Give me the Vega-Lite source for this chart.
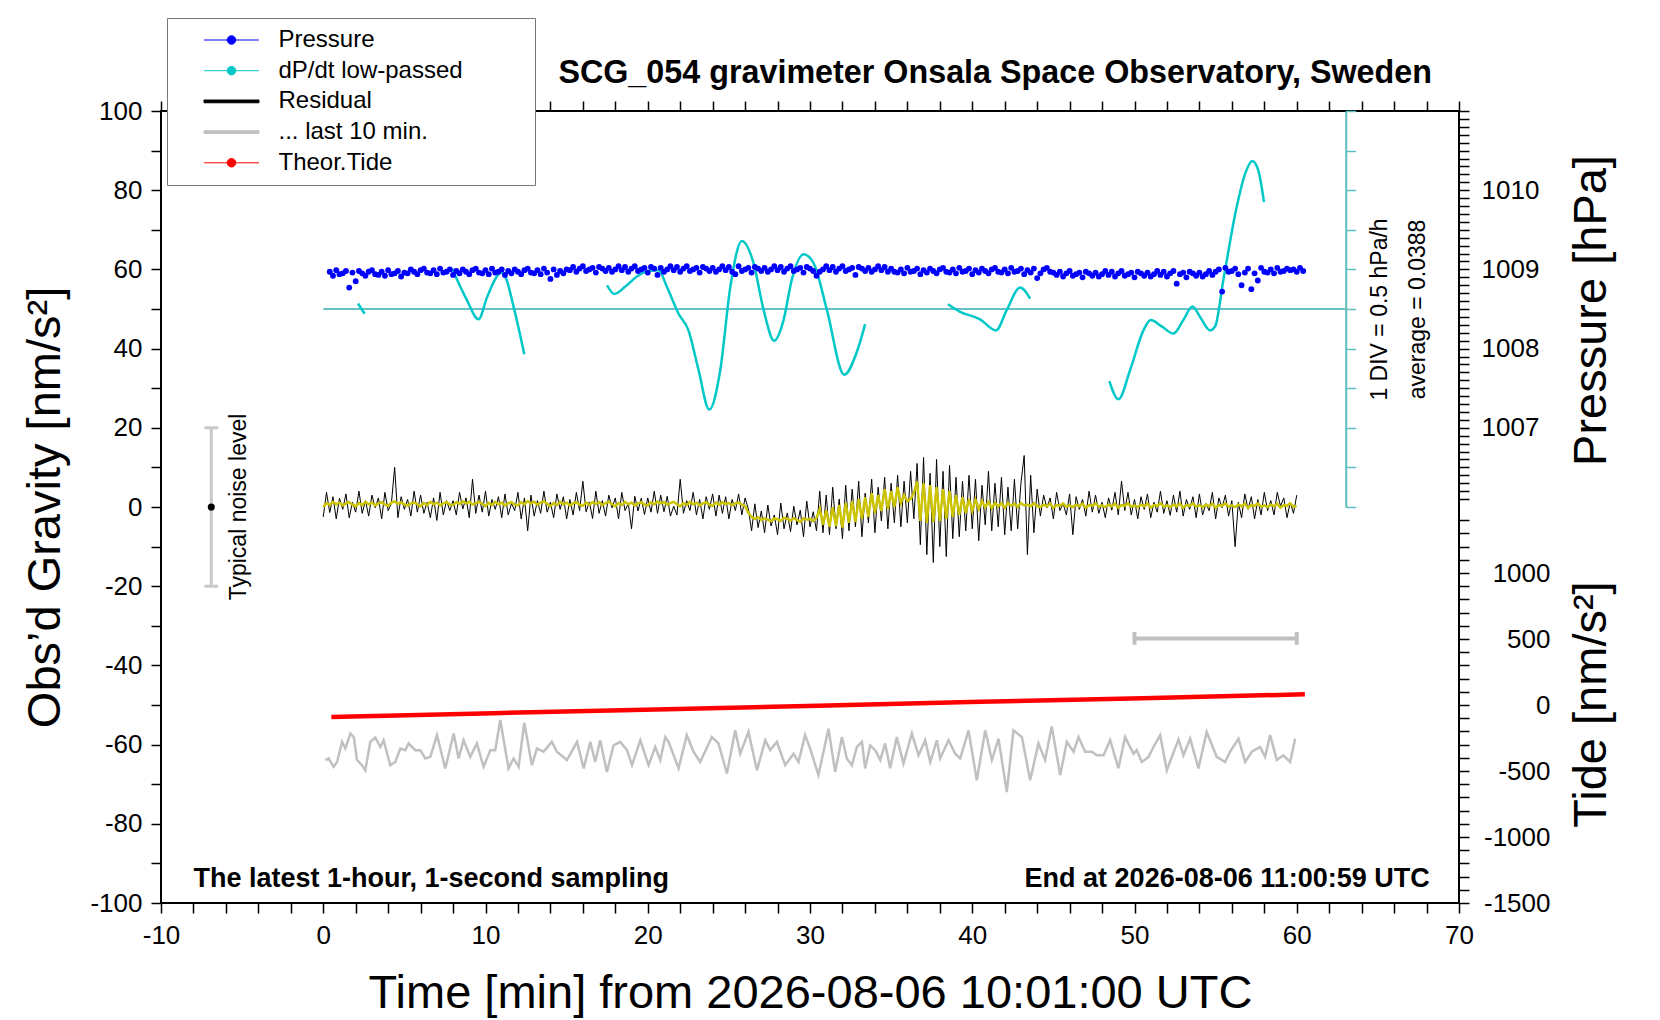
{
  "$schema": "https://vega.github.io/schema/vega-lite/v6.json",
  "width": 1298,
  "height": 792,
  "autosize": {"type": "none"},
  "padding": {"left": 161, "top": 111, "right": 201, "bottom": 117},
  "background": "white",
  "title": {"text": "SCG_054 gravimeter Onsala Space Observatory, Sweden", "frame": "group", "anchor": "end", "dx": -27, "offset": -72, "fontSize": 32.3, "fontWeight": "bold", "color": "black", "font": "Liberation Sans"},
  "config": {
    "font": "Liberation Sans",
    "view": {"stroke": "black", "strokeWidth": 2},
    "axis": {"grid": false, "domain": false, "tickColor": "black", "tickWidth": 1.5, "tickSize": 10, "tickCount": 200, "labelFontSize": 26, "labelColor": "black", "labelOverlap": false, "labelBound": false, "labelFlush": false, "titleFontSize": 47, "titleFontWeight": "normal", "titleColor": "black"}
  },
  "datasets": {
    "res": [
      {"t":0,"r":-2.5,"s":0.0},{"t":0.2,"r":3.7,"s":1.0},{"t":0.4,"r":-1.4,"s":0.5},{"t":0.6,"r":2.6,"s":1.3},{"t":0.8,"r":-3.0,"s":0.7},{"t":1.0,"r":2.2,"s":1.1},{"t":1.2,"r":-0.6,"s":0.4},{"t":1.4,"r":3.3,"s":0.9},{"t":1.6,"r":-2.7,"s":1.2},{"t":1.8,"r":1.2,"s":0.6},
      {"t":2.0,"r":-1.3,"s":0.2},{"t":2.2,"r":4.0,"s":1.0},{"t":2.4,"r":-1.6,"s":0.5},{"t":2.6,"r":1.6,"s":1.3},{"t":2.8,"r":-2.3,"s":0.7},{"t":3.0,"r":3.0,"s":1.1},{"t":3.2,"r":-0.2,"s":0.4},{"t":3.4,"r":2.3,"s":0.9},{"t":3.6,"r":-3.0,"s":1.2},{"t":3.8,"r":3.7,"s":0.6},
      {"t":4.0,"r":-0.9,"s":0.3},{"t":4.2,"r":0.9,"s":1.1},{"t":4.4,"r":10.0,"s":1.4},{"t":4.6,"r":-2.7,"s":0.8},{"t":4.8,"r":2.6,"s":1.2},{"t":5.0,"r":-0.6,"s":0.6},{"t":5.2,"r":1.9,"s":0.4},{"t":5.4,"r":-2.3,"s":0.9},{"t":5.6,"r":4.0,"s":1.1},{"t":5.8,"r":-1.3,"s":0.7},
      {"t":6.0,"r":3.0,"s":0.2},{"t":6.2,"r":-1.6,"s":1.0},{"t":6.4,"r":1.2,"s":0.5},{"t":6.6,"r":-2.7,"s":1.3},{"t":6.8,"r":2.3,"s":0.7},{"t":7.0,"r":-3.4,"s":1.1},{"t":7.2,"r":3.7,"s":0.4},{"t":7.4,"r":-2.0,"s":0.9},{"t":7.6,"r":1.6,"s":1.2},{"t":7.8,"r":-0.9,"s":0.6},
      {"t":8.0,"r":1.6,"s":0.5},{"t":8.2,"r":-2.0,"s":1.2},{"t":8.4,"r":3.7,"s":0.8},{"t":8.6,"r":-0.5,"s":1.4},{"t":8.8,"r":2.3,"s":0.9},{"t":9.0,"r":-2.7,"s":1.3},{"t":9.2,"r":7.0,"s":0.6},{"t":9.4,"r":-1.6,"s":1.0},{"t":9.6,"r":3.0,"s":1.3},{"t":9.8,"r":-1.3,"s":0.8},
      {"t":10.0,"r":4.0,"s":0.2},{"t":10.2,"r":-2.3,"s":1.0},{"t":10.4,"r":1.9,"s":0.5},{"t":10.6,"r":-0.6,"s":1.3},{"t":10.8,"r":2.6,"s":0.7},{"t":11.0,"r":-2.7,"s":1.1},{"t":11.2,"r":3.3,"s":0.4},{"t":11.4,"r":-2.0,"s":0.9},{"t":11.6,"r":0.9,"s":1.2},{"t":11.8,"r":-0.9,"s":0.6},
      {"t":12.0,"r":3.7,"s":0.4},{"t":12.2,"r":-3.0,"s":1.2},{"t":12.4,"r":2.3,"s":0.7},{"t":12.6,"r":-6.0,"s":1.5},{"t":12.8,"r":3.0,"s":0.9},{"t":13.0,"r":-2.3,"s":1.3},{"t":13.2,"r":1.6,"s":0.6},{"t":13.4,"r":-1.6,"s":1.1},{"t":13.6,"r":4.0,"s":1.4},{"t":13.8,"r":-1.3,"s":0.8},
      {"t":14.0,"r":1.2,"s":0.2},{"t":14.2,"r":-2.7,"s":1.0},{"t":14.4,"r":3.3,"s":0.5},{"t":14.6,"r":-0.6,"s":1.3},{"t":14.8,"r":2.6,"s":0.7},{"t":15.0,"r":-3.0,"s":1.1},{"t":15.2,"r":1.9,"s":0.4},{"t":15.4,"r":-2.0,"s":0.9},{"t":15.6,"r":3.7,"s":1.2},{"t":15.8,"r":-0.9,"s":0.6},
      {"t":16.0,"r":6.5,"s":0.3},{"t":16.2,"r":-1.2,"s":1.1},{"t":16.4,"r":1.3,"s":0.6},{"t":16.6,"r":-2.9,"s":1.2},{"t":16.8,"r":4.0,"s":0.8},{"t":17.0,"r":-1.6,"s":1.2},{"t":17.2,"r":1.6,"s":0.5},{"t":17.4,"r":-2.3,"s":1.0},{"t":17.6,"r":3.0,"s":1.3},{"t":17.8,"r":-0.2,"s":0.7},
      {"t":18.0,"r":2.3,"s":0.2},{"t":18.2,"r":-3.0,"s":1.0},{"t":18.4,"r":3.7,"s":0.5},{"t":18.6,"r":-0.9,"s":1.3},{"t":18.8,"r":0.9,"s":0.7},{"t":19.0,"r":-5.5,"s":1.1},{"t":19.2,"r":2.7,"s":0.4},{"t":19.4,"r":-1.0,"s":0.9},{"t":19.6,"r":2.2,"s":1.2},{"t":19.8,"r":-1.9,"s":0.6},
      {"t":20.0,"r":2.3,"s":0.4},{"t":20.2,"r":-1.3,"s":1.2},{"t":20.4,"r":4.0,"s":0.7},{"t":20.6,"r":-1.6,"s":1.4},{"t":20.8,"r":3.0,"s":0.9},{"t":21.0,"r":-1.2,"s":1.2},{"t":21.2,"r":2.7,"s":0.6},{"t":21.4,"r":-2.3,"s":1.0},{"t":21.6,"r":0.2,"s":1.3},{"t":21.8,"r":-2.0,"s":0.7},
      {"t":22.0,"r":7.0,"s":0.2},{"t":22.2,"r":-1.6,"s":1.0},{"t":22.4,"r":1.6,"s":0.5},{"t":22.6,"r":-0.9,"s":1.3},{"t":22.8,"r":3.7,"s":0.7},{"t":23.0,"r":-2.0,"s":1.1},{"t":23.2,"r":1.9,"s":0.4},{"t":23.4,"r":-3.0,"s":0.9},{"t":23.6,"r":2.6,"s":1.2},{"t":23.8,"r":-0.6,"s":0.6},
      {"t":24.0,"r":3.3,"s":0.3},{"t":24.2,"r":-2.3,"s":1.1},{"t":24.4,"r":3.0,"s":0.6},{"t":24.6,"r":-1.6,"s":1.2},{"t":24.8,"r":2.6,"s":0.8},{"t":25.0,"r":-3.0,"s":1.0},{"t":25.2,"r":1.9,"s":0.5},{"t":25.4,"r":-0.9,"s":0.9},{"t":25.6,"r":3.3,"s":1.1},{"t":25.8,"r":-2.0,"s":0.6},
      {"t":26.0,"r":2.3,"s":0.2},{"t":26.2,"r":-0.5,"s":-1.5},{"t":26.4,"r":-6.0,"s":-2.5},{"t":26.6,"r":0.8,"s":-3.0},{"t":26.8,"r":-5.2,"s":-2.6},{"t":27.0,"r":-1.0,"s":-3.3},{"t":27.2,"r":-6.5,"s":-2.8},{"t":27.4,"r":0.5,"s":-3.2},{"t":27.6,"r":-4.8,"s":-3.6},{"t":27.8,"r":-2.0,"s":-2.9},
      {"t":28.0,"r":-7.0,"s":-3.1},{"t":28.2,"r":1.0,"s":-3.5},{"t":28.4,"r":-5.5,"s":-2.7},{"t":28.6,"r":-1.5,"s":-3.0},{"t":28.8,"r":-6.2,"s":-3.4},{"t":29.0,"r":0.2,"s":-2.8},{"t":29.2,"r":-4.5,"s":-3.3},{"t":29.4,"r":-0.8,"s":-3.7},{"t":29.6,"r":-7.5,"s":-2.9},{"t":29.8,"r":1.5,"s":-3.2},
      {"t":30.0,"r":-5.0,"s":-3.0},{"t":30.2,"r":-1.2,"s":-3.5},{"t":30.4,"r":-6.0,"s":-2.8},{"t":30.6,"r":4.0,"s":-0.5},{"t":30.8,"r":-6.5,"s":-4.5},{"t":31.0,"r":3.0,"s":-0.8},{"t":31.2,"r":-7.0,"s":-5.0},{"t":31.4,"r":5.0,"s":0.0},{"t":31.6,"r":-5.5,"s":-4.8},{"t":31.8,"r":2.0,"s":0.5},
      {"t":32.0,"r":-8.0,"s":-5.2},{"t":32.2,"r":5.5,"s":1.0},{"t":32.4,"r":-6.0,"s":-4.0},{"t":32.6,"r":4.5,"s":1.5},{"t":32.8,"r":-5.0,"s":-3.8},{"t":33.0,"r":6.5,"s":2.0},{"t":33.2,"r":-7.5,"s":-3.0},{"t":33.4,"r":3.5,"s":2.5},{"t":33.6,"r":-4.0,"s":-2.5},{"t":33.8,"r":7.0,"s":3.5},
      {"t":34.0,"r":-6.5,"s":-1.5},{"t":34.2,"r":5.0,"s":3.0},{"t":34.4,"r":-3.5,"s":-1.0},{"t":34.6,"r":7.5,"s":4.5},{"t":34.8,"r":-5.5,"s":-0.5},{"t":35.0,"r":6.0,"s":4.0},{"t":35.2,"r":-4.0,"s":0.0},{"t":35.4,"r":8.0,"s":5.0},{"t":35.6,"r":-5.0,"s":1.0},{"t":35.8,"r":6.5,"s":3.0},
      {"t":36.0,"r":-4.0,"s":1.5},{"t":36.2,"r":9.0,"s":2.0},{"t":36.4,"r":-3.0,"s":3.5},{"t":36.6,"r":11.0,"s":6.5},{"t":36.8,"r":-9.5,"s":-3.5},{"t":37.0,"r":12.5,"s":6.0},{"t":37.2,"r":-12.0,"s":-4.0},{"t":37.4,"r":8.5,"s":5.5},{"t":37.6,"r":-14.0,"s":-3.8},{"t":37.8,"r":12.0,"s":5.0},
      {"t":38.0,"r":-10.0,"s":-3.5},{"t":38.2,"r":9.0,"s":4.5},{"t":38.4,"r":-12.5,"s":-3.0},{"t":38.6,"r":10.5,"s":4.0},{"t":38.8,"r":-8.0,"s":-2.5},{"t":39.0,"r":7.5,"s":3.0},{"t":39.2,"r":-7.5,"s":-2.0},{"t":39.4,"r":6.5,"s":2.5},{"t":39.6,"r":-6.0,"s":-1.5},{"t":39.8,"r":8.0,"s":2.0},
      {"t":40.0,"r":-5.5,"s":-1.0},{"t":40.2,"r":7.0,"s":1.8},{"t":40.4,"r":-8.5,"s":-0.5},{"t":40.6,"r":5.5,"s":1.5},{"t":40.8,"r":-4.5,"s":0.0},{"t":41.0,"r":9.0,"s":1.2},{"t":41.2,"r":-6.0,"s":-0.3},{"t":41.4,"r":6.0,"s":1.0},{"t":41.6,"r":-5.0,"s":0.2},{"t":41.8,"r":7.5,"s":0.9},
      {"t":42.0,"r":-7.0,"s":-0.2},{"t":42.2,"r":5.0,"s":1.0},{"t":42.4,"r":-6.0,"s":0.3},{"t":42.6,"r":7.0,"s":0.8},{"t":42.8,"r":-5.5,"s":0.0},{"t":43.0,"r":6.0,"s":1.0},{"t":43.2,"r":13.0,"s":0.4},{"t":43.4,"r":-12.0,"s":0.6},{"t":43.6,"r":8.0,"s":0.2},{"t":43.8,"r":-6.5,"s":0.9},
      {"t":44.0,"r":4.5,"s":0.3},{"t":44.2,"r":-2.3,"s":0.0},{"t":44.4,"r":3.0,"s":0.6},{"t":44.6,"r":-0.2,"s":0.2},{"t":44.8,"r":2.3,"s":0.8},{"t":45.0,"r":-3.0,"s":-0.2},{"t":45.2,"r":3.7,"s":0.5},{"t":45.4,"r":-0.9,"s":0.3},{"t":45.6,"r":0.9,"s":0.9},{"t":45.8,"r":-2.0,"s":0.1},
      {"t":46.0,"r":3.3,"s":0.4},{"t":46.2,"r":-7.0,"s":0.0},{"t":46.4,"r":2.6,"s":0.6},{"t":46.6,"r":-0.6,"s":0.2},{"t":46.8,"r":1.9,"s":0.8},{"t":47.0,"r":-2.3,"s":-0.2},{"t":47.2,"r":4.0,"s":0.5},{"t":47.4,"r":-1.3,"s":0.3},{"t":47.6,"r":3.0,"s":0.9},{"t":47.8,"r":-1.6,"s":0.1},
      {"t":48.0,"r":1.2,"s":0.4},{"t":48.2,"r":-2.7,"s":0.0},{"t":48.4,"r":2.3,"s":0.6},{"t":48.6,"r":-0.8,"s":0.2},{"t":48.8,"r":3.7,"s":0.8},{"t":49.0,"r":-2.0,"s":-0.2},{"t":49.2,"r":6.5,"s":0.5},{"t":49.4,"r":-0.9,"s":0.3},{"t":49.6,"r":3.7,"s":0.9},{"t":49.8,"r":-2.0,"s":0.1},
      {"t":50.0,"r":1.9,"s":0.4},{"t":50.2,"r":-3.0,"s":0.0},{"t":50.4,"r":2.6,"s":0.6},{"t":50.6,"r":-0.6,"s":0.2},{"t":50.8,"r":3.3,"s":0.8},{"t":51.0,"r":-2.7,"s":-0.2},{"t":51.2,"r":1.2,"s":0.5},{"t":51.4,"r":-1.3,"s":0.3},{"t":51.6,"r":4.0,"s":0.9},{"t":51.8,"r":-1.6,"s":0.1},
      {"t":52.0,"r":1.6,"s":0.4},{"t":52.2,"r":-2.1,"s":0.0},{"t":52.4,"r":3.0,"s":0.6},{"t":52.6,"r":-1.3,"s":0.2},{"t":52.8,"r":4.0,"s":0.8},{"t":53.0,"r":-2.3,"s":-0.2},{"t":53.2,"r":1.9,"s":0.5},{"t":53.4,"r":-0.6,"s":0.3},{"t":53.6,"r":2.6,"s":0.9},{"t":53.8,"r":-2.7,"s":0.1},
      {"t":54.0,"r":3.3,"s":0.4},{"t":54.2,"r":-2.0,"s":0.0},{"t":54.4,"r":0.9,"s":0.6},{"t":54.6,"r":-0.9,"s":0.2},{"t":54.8,"r":3.7,"s":0.8},{"t":55.0,"r":-3.0,"s":-0.2},{"t":55.2,"r":2.3,"s":0.5},{"t":55.4,"r":-0.2,"s":0.3},{"t":55.6,"r":3.0,"s":0.9},{"t":55.8,"r":-2.3,"s":0.1},
      {"t":56.0,"r":1.6,"s":0.4},{"t":56.2,"r":-10.0,"s":0.0},{"t":56.4,"r":1.2,"s":0.6},{"t":56.6,"r":-2.7,"s":0.2},{"t":56.8,"r":3.3,"s":0.8},{"t":57.0,"r":-0.6,"s":-0.2},{"t":57.2,"r":2.6,"s":0.5},{"t":57.4,"r":-3.0,"s":0.3},{"t":57.6,"r":1.9,"s":0.9},{"t":57.8,"r":-2.0,"s":0.1},
      {"t":58.0,"r":3.7,"s":0.4},{"t":58.2,"r":-0.9,"s":0.0},{"t":58.4,"r":1.6,"s":0.6},{"t":58.6,"r":-2.0,"s":0.2},{"t":58.8,"r":3.7,"s":0.8},{"t":59.0,"r":0.2,"s":-0.2},{"t":59.2,"r":2.3,"s":0.5},{"t":59.4,"r":-2.7,"s":0.3},{"t":59.6,"r":1.2,"s":0.9},{"t":59.8,"r":-1.6,"s":0.1},
      {"t":60.0,"r":3.0,"s":0.2}
    ],
    "pres": [
      {"t":0.4,"p":1008.97},{"t":0.6,"p":1008.92},{"t":0.8,"p":1008.99},{"t":1.0,"p":1008.94},{"t":1.2,"p":1008.95},{"t":1.4,"p":1008.98},{"t":1.6,"p":1008.77},{"t":1.8,"p":1008.96},{"t":2.0,"p":1008.85},{"t":2.2,"p":1008.98},
      {"t":2.4,"p":1008.95},{"t":2.6,"p":1008.92},{"t":2.8,"p":1008.97},{"t":3.0,"p":1008.99},{"t":3.2,"p":1008.94},{"t":3.4,"p":1008.93},{"t":3.6,"p":1008.97},{"t":3.8,"p":1008.92},{"t":4.0,"p":1008.99},{"t":4.2,"p":1008.94},
      {"t":4.4,"p":1008.95},{"t":4.6,"p":1008.98},{"t":4.8,"p":1008.91},{"t":5.0,"p":1008.96},{"t":5.2,"p":1008.95},{"t":5.4,"p":1009.00},{"t":5.6,"p":1008.97},{"t":5.8,"p":1008.94},{"t":6.0,"p":1008.99},{"t":6.2,"p":1009.01},
      {"t":6.4,"p":1008.96},{"t":6.6,"p":1008.95},{"t":6.8,"p":1008.99},{"t":7.0,"p":1008.94},{"t":7.2,"p":1009.01},{"t":7.4,"p":1008.96},{"t":7.6,"p":1008.97},{"t":7.8,"p":1009.00},{"t":8.0,"p":1008.93},{"t":8.2,"p":1008.98},
      {"t":8.4,"p":1008.95},{"t":8.6,"p":1009.00},{"t":8.8,"p":1008.97},{"t":9.0,"p":1008.94},{"t":9.2,"p":1008.99},{"t":9.4,"p":1009.01},{"t":9.6,"p":1008.96},{"t":9.8,"p":1008.95},{"t":10.0,"p":1008.99},{"t":10.2,"p":1008.94},
      {"t":10.4,"p":1009.01},{"t":10.6,"p":1008.96},{"t":10.8,"p":1008.97},{"t":11.0,"p":1009.00},{"t":11.2,"p":1008.93},{"t":11.4,"p":1008.98},{"t":11.6,"p":1008.95},{"t":11.8,"p":1009.00},{"t":12.0,"p":1008.97},{"t":12.2,"p":1008.94},
      {"t":12.4,"p":1008.99},{"t":12.6,"p":1009.01},{"t":12.8,"p":1008.96},{"t":13.0,"p":1008.95},{"t":13.2,"p":1008.99},{"t":13.4,"p":1008.94},{"t":13.6,"p":1009.01},{"t":13.8,"p":1008.96},{"t":14.0,"p":1008.88},{"t":14.2,"p":1009.00},
      {"t":14.4,"p":1008.93},{"t":14.6,"p":1008.98},{"t":14.8,"p":1008.95},{"t":15.0,"p":1009.00},{"t":15.2,"p":1008.99},{"t":15.4,"p":1009.03},{"t":15.6,"p":1008.97},{"t":15.8,"p":1009.01},{"t":16.0,"p":1009.04},{"t":16.2,"p":1008.98},
      {"t":16.4,"p":1009.00},{"t":16.6,"p":1009.02},{"t":16.8,"p":1008.96},{"t":17.0,"p":1009.03},{"t":17.2,"p":1009.01},{"t":17.4,"p":1008.98},{"t":17.6,"p":1009.02},{"t":17.8,"p":1008.97},{"t":18.0,"p":1009.00},{"t":18.2,"p":1009.04},
      {"t":18.4,"p":1008.99},{"t":18.6,"p":1009.03},{"t":18.8,"p":1008.97},{"t":19.0,"p":1009.01},{"t":19.2,"p":1009.04},{"t":19.4,"p":1008.98},{"t":19.6,"p":1009.00},{"t":19.8,"p":1009.02},{"t":20.0,"p":1008.96},{"t":20.2,"p":1009.03},
      {"t":20.4,"p":1009.01},{"t":20.6,"p":1008.93},{"t":20.8,"p":1009.02},{"t":21.0,"p":1008.97},{"t":21.2,"p":1009.00},{"t":21.4,"p":1009.04},{"t":21.6,"p":1008.99},{"t":21.8,"p":1009.03},{"t":22.0,"p":1008.97},{"t":22.2,"p":1009.01},
      {"t":22.4,"p":1009.04},{"t":22.6,"p":1008.98},{"t":22.8,"p":1009.00},{"t":23.0,"p":1009.02},{"t":23.2,"p":1008.96},{"t":23.4,"p":1009.03},{"t":23.6,"p":1009.01},{"t":23.8,"p":1008.98},{"t":24.0,"p":1009.02},{"t":24.2,"p":1008.97},
      {"t":24.4,"p":1009.00},{"t":24.6,"p":1009.04},{"t":24.8,"p":1008.99},{"t":25.0,"p":1009.03},{"t":25.2,"p":1008.97},{"t":25.4,"p":1008.94},{"t":25.6,"p":1009.04},{"t":25.8,"p":1008.98},{"t":26.0,"p":1009.00},{"t":26.2,"p":1009.02},
      {"t":26.4,"p":1008.96},{"t":26.6,"p":1009.03},{"t":26.8,"p":1009.01},{"t":27.0,"p":1008.98},{"t":27.2,"p":1009.02},{"t":27.4,"p":1008.97},{"t":27.6,"p":1009.00},{"t":27.8,"p":1009.04},{"t":28.0,"p":1008.99},{"t":28.2,"p":1009.03},
      {"t":28.4,"p":1008.97},{"t":28.6,"p":1009.01},{"t":28.8,"p":1009.04},{"t":29.0,"p":1008.98},{"t":29.2,"p":1009.00},{"t":29.4,"p":1009.02},{"t":29.6,"p":1008.96},{"t":29.8,"p":1009.03},{"t":30.0,"p":1009.01},{"t":30.2,"p":1008.98},
      {"t":30.4,"p":1008.92},{"t":30.6,"p":1008.97},{"t":30.8,"p":1009.00},{"t":31.0,"p":1009.04},{"t":31.2,"p":1008.99},{"t":31.4,"p":1009.03},{"t":31.6,"p":1008.97},{"t":31.8,"p":1009.01},{"t":32.0,"p":1009.04},{"t":32.2,"p":1008.98},
      {"t":32.4,"p":1009.00},{"t":32.6,"p":1009.02},{"t":32.8,"p":1008.93},{"t":33.0,"p":1009.03},{"t":33.2,"p":1009.01},{"t":33.4,"p":1008.98},{"t":33.6,"p":1009.02},{"t":33.8,"p":1008.97},{"t":34.0,"p":1009.00},{"t":34.2,"p":1009.04},
      {"t":34.4,"p":1008.99},{"t":34.6,"p":1009.03},{"t":34.8,"p":1008.97},{"t":35.0,"p":1009.01},{"t":35.2,"p":1008.97},{"t":35.4,"p":1008.96},{"t":35.6,"p":1009.00},{"t":35.8,"p":1008.95},{"t":36.0,"p":1009.02},{"t":36.2,"p":1008.97},
      {"t":36.4,"p":1008.98},{"t":36.6,"p":1009.01},{"t":36.8,"p":1008.94},{"t":37.0,"p":1008.99},{"t":37.2,"p":1008.96},{"t":37.4,"p":1009.01},{"t":37.6,"p":1008.98},{"t":37.8,"p":1008.95},{"t":38.0,"p":1009.00},{"t":38.2,"p":1009.02},
      {"t":38.4,"p":1008.97},{"t":38.6,"p":1008.96},{"t":38.8,"p":1009.00},{"t":39.0,"p":1008.95},{"t":39.2,"p":1009.02},{"t":39.4,"p":1008.97},{"t":39.6,"p":1008.98},{"t":39.8,"p":1009.01},{"t":40.0,"p":1008.94},{"t":40.2,"p":1008.99},
      {"t":40.4,"p":1008.96},{"t":40.6,"p":1009.01},{"t":40.8,"p":1008.98},{"t":41.0,"p":1008.95},{"t":41.2,"p":1009.00},{"t":41.4,"p":1009.02},{"t":41.6,"p":1008.97},{"t":41.8,"p":1008.96},{"t":42.0,"p":1009.00},{"t":42.2,"p":1008.95},
      {"t":42.4,"p":1009.02},{"t":42.6,"p":1008.97},{"t":42.8,"p":1008.98},{"t":43.0,"p":1009.01},{"t":43.2,"p":1008.94},{"t":43.4,"p":1008.99},{"t":43.6,"p":1008.96},{"t":43.8,"p":1009.01},{"t":44.0,"p":1008.89},{"t":44.2,"p":1008.95},
      {"t":44.4,"p":1009.00},{"t":44.6,"p":1009.02},{"t":44.8,"p":1008.97},{"t":45.0,"p":1008.96},{"t":45.2,"p":1008.93},{"t":45.4,"p":1008.97},{"t":45.6,"p":1008.91},{"t":45.8,"p":1008.95},{"t":46.0,"p":1008.98},{"t":46.2,"p":1008.92},
      {"t":46.4,"p":1008.94},{"t":46.6,"p":1008.96},{"t":46.8,"p":1008.90},{"t":47.0,"p":1008.97},{"t":47.2,"p":1008.95},{"t":47.4,"p":1008.92},{"t":47.6,"p":1008.96},{"t":47.8,"p":1008.91},{"t":48.0,"p":1008.94},{"t":48.2,"p":1008.98},
      {"t":48.4,"p":1008.93},{"t":48.6,"p":1008.97},{"t":48.8,"p":1008.91},{"t":49.0,"p":1008.95},{"t":49.2,"p":1008.98},{"t":49.4,"p":1008.92},{"t":49.6,"p":1008.94},{"t":49.8,"p":1008.96},{"t":50.0,"p":1008.90},{"t":50.2,"p":1008.97},
      {"t":50.4,"p":1008.95},{"t":50.6,"p":1008.92},{"t":50.8,"p":1008.96},{"t":51.0,"p":1008.91},{"t":51.2,"p":1008.94},{"t":51.4,"p":1008.98},{"t":51.6,"p":1008.93},{"t":51.8,"p":1008.97},{"t":52.0,"p":1008.91},{"t":52.2,"p":1008.95},
      {"t":52.4,"p":1008.98},{"t":52.6,"p":1008.82},{"t":52.8,"p":1008.94},{"t":53.0,"p":1008.96},{"t":53.2,"p":1008.90},{"t":53.4,"p":1008.97},{"t":53.6,"p":1008.95},{"t":53.8,"p":1008.92},{"t":54.0,"p":1008.96},{"t":54.2,"p":1008.91},
      {"t":54.4,"p":1008.94},{"t":54.6,"p":1008.98},{"t":54.8,"p":1008.93},{"t":55.0,"p":1008.97},{"t":55.2,"p":1009.00},{"t":55.4,"p":1008.72},{"t":55.6,"p":1009.02},{"t":55.8,"p":1008.97},{"t":56.0,"p":1008.98},{"t":56.2,"p":1009.01},
      {"t":56.4,"p":1008.94},{"t":56.6,"p":1008.80},{"t":56.8,"p":1008.96},{"t":57.0,"p":1009.01},{"t":57.2,"p":1008.75},{"t":57.4,"p":1008.95},{"t":57.6,"p":1008.86},{"t":57.8,"p":1009.02},{"t":58.0,"p":1008.97},{"t":58.2,"p":1008.96},
      {"t":58.4,"p":1009.00},{"t":58.6,"p":1008.95},{"t":58.8,"p":1009.02},{"t":59.0,"p":1008.97},{"t":59.2,"p":1008.98},{"t":59.4,"p":1009.01},{"t":59.6,"p":1008.99},{"t":59.8,"p":1009.00},{"t":60.0,"p":1008.97},{"t":60.2,"p":1009.02},
      {"t":60.4,"p":1008.98}
    ],
    "gray": [
      {"t":0.13,"g":-63.9},{"t":0.33,"g":-63.5},{"t":0.64,"g":-65.6},{"t":0.85,"g":-64.4},{"t":1.16,"g":-59.3},{"t":1.36,"g":-61.0},{"t":1.67,"g":-57.2},{"t":1.88,"g":-58.1},{"t":2.08,"g":-63.9},{"t":2.39,"g":-65.2},
      {"t":2.59,"g":-66.5},{"t":2.90,"g":-59.3},{"t":3.21,"g":-58.2},{"t":3.52,"g":-60.6},{"t":3.72,"g":-58.9},{"t":4.13,"g":-65.2},{"t":4.44,"g":-64.4},{"t":4.75,"g":-61.0},{"t":5.06,"g":-61.4},{"t":5.26,"g":-59.7},
      {"t":5.67,"g":-61.4},{"t":5.98,"g":-61.4},{"t":6.29,"g":-63.5},{"t":6.60,"g":-63.1},{"t":7.01,"g":-57.6},{"t":7.52,"g":-66.0},{"t":8.04,"g":-57.2},{"t":8.34,"g":-63.5},{"t":8.65,"g":-58.9},{"t":9.06,"g":-63.1},
      {"t":9.47,"g":-59.7},{"t":9.88,"g":-65.6},{"t":10.30,"g":-61.4},{"t":10.60,"g":-61.4},{"t":10.91,"g":-53.8},{"t":11.42,"g":-66.0},{"t":11.73,"g":-63.5},{"t":12.04,"g":-65.6},{"t":12.39,"g":-54.5},{"t":12.86,"g":-65.2},
      {"t":13.17,"g":-61.0},{"t":13.58,"g":-61.8},{"t":14.09,"g":-59.3},{"t":14.40,"g":-61.8},{"t":15.02,"g":-63.9},{"t":15.64,"g":-59.3},{"t":16.05,"g":-66.0},{"t":16.46,"g":-59.3},{"t":16.76,"g":-64.4},{"t":17.07,"g":-58.9},
      {"t":17.48,"g":-66.9},{"t":17.89,"g":-60.2},{"t":18.30,"g":-59.3},{"t":18.72,"g":-61.4},{"t":19.03,"g":-65.2},{"t":19.54,"g":-58.9},{"t":20.05,"g":-65.2},{"t":20.46,"g":-60.6},{"t":20.77,"g":-63.9},{"t":21.08,"g":-58.1},
      {"t":21.28,"g":-59.3},{"t":21.90,"g":-66.0},{"t":22.41,"g":-57.6},{"t":22.82,"g":-61.8},{"t":23.23,"g":-64.4},{"t":23.95,"g":-58.1},{"t":24.36,"g":-59.7},{"t":24.88,"g":-67.3},{"t":25.39,"g":-56.4},{"t":25.70,"g":-62.3},
      {"t":26.21,"g":-56.8},{"t":26.73,"g":-66.5},{"t":27.24,"g":-58.9},{"t":27.55,"g":-61.4},{"t":27.96,"g":-59.3},{"t":28.47,"g":-65.2},{"t":28.99,"g":-62.3},{"t":29.29,"g":-64.4},{"t":29.70,"g":-57.6},{"t":30.01,"g":-61.0},
      {"t":30.52,"g":-67.7},{"t":31.14,"g":-56.0},{"t":31.55,"g":-66.9},{"t":31.97,"g":-58.1},{"t":32.27,"g":-63.5},{"t":32.58,"g":-65.2},{"t":32.89,"g":-60.6},{"t":33.20,"g":-59.3},{"t":33.40,"g":-66.0},{"t":33.71,"g":-60.2},
      {"t":34.02,"g":-61.4},{"t":34.33,"g":-63.9},{"t":34.63,"g":-59.7},{"t":34.94,"g":-66.0},{"t":35.35,"g":-58.1},{"t":35.76,"g":-64.8},{"t":36.28,"g":-57.2},{"t":36.69,"g":-62.7},{"t":37.10,"g":-58.9},{"t":37.41,"g":-64.4},
      {"t":37.82,"g":-58.9},{"t":38.02,"g":-63.5},{"t":38.54,"g":-58.9},{"t":38.95,"g":-62.3},{"t":39.26,"g":-63.5},{"t":39.77,"g":-56.4},{"t":40.28,"g":-69.0},{"t":40.80,"g":-56.4},{"t":41.21,"g":-63.9},{"t":41.62,"g":-58.5},
      {"t":42.13,"g":-72.0},{"t":42.54,"g":-56.4},{"t":43.06,"g":-58.1},{"t":43.57,"g":-69.0},{"t":44.08,"g":-59.7},{"t":44.49,"g":-63.9},{"t":44.90,"g":-55.4},{"t":45.42,"g":-67.7},{"t":45.83,"g":-59.3},{"t":46.24,"g":-61.8},
      {"t":46.55,"g":-58.1},{"t":46.96,"g":-61.8},{"t":47.37,"g":-61.8},{"t":47.68,"g":-62.7},{"t":48.09,"g":-62.7},{"t":48.50,"g":-58.9},{"t":49.01,"g":-66.0},{"t":49.42,"g":-58.1},{"t":49.94,"g":-62.3},{"t":50.14,"g":-61.4},
      {"t":50.45,"g":-64.4},{"t":50.86,"g":-63.1},{"t":51.17,"g":-60.6},{"t":51.58,"g":-57.6},{"t":51.99,"g":-66.5},{"t":52.71,"g":-58.7},{"t":53.02,"g":-62.7},{"t":53.43,"g":-58.5},{"t":53.94,"g":-66.0},{"t":54.45,"g":-56.8},
      {"t":55.07,"g":-63.1},{"t":55.58,"g":-64.4},{"t":55.89,"g":-61.8},{"t":56.41,"g":-58.5},{"t":56.82,"g":-64.4},{"t":57.23,"g":-61.8},{"t":57.74,"g":-60.6},{"t":58.05,"g":-63.1},{"t":58.36,"g":-57.6},{"t":58.77,"g":-63.9},
      {"t":59.18,"g":-62.7},{"t":59.59,"g":-64.4},{"t":59.90,"g":-58.5}
    ],
    "dpdt": [
      {"seg":1,"t":2.14,"d":0.07},{"seg":1,"t":2.55,"d":-0.06},
      {"seg":2,"t":7.94,"d":0.51},{"seg":2,"t":8.86,"d":0.11},{"seg":2,"t":9.57,"d":-0.13},{"seg":2,"t":10.1,"d":0.15},{"seg":2,"t":10.67,"d":0.40},{"seg":2,"t":10.95,"d":0.46},{"seg":2,"t":11.22,"d":0.41},{"seg":2,"t":11.73,"d":0.03},{"seg":2,"t":12.39,"d":-0.57},
      {"seg":3,"t":17.49,"d":0.30},{"seg":3,"t":17.94,"d":0.19},{"seg":3,"t":18.6,"d":0.28},{"seg":3,"t":19.33,"d":0.41},{"seg":3,"t":20.0,"d":0.48},{"seg":3,"t":20.67,"d":0.49},{"seg":3,"t":21.18,"d":0.28},{"seg":3,"t":21.9,"d":-0.06},{"seg":3,"t":22.51,"d":-0.27},{"seg":3,"t":23.13,"d":-0.77},
      {"seg":3,"t":23.79,"d":-1.27},{"seg":3,"t":24.47,"d":-0.77},{"seg":3,"t":25.09,"d":0.28},{"seg":3,"t":25.8,"d":0.86},{"seg":3,"t":26.52,"d":0.58},{"seg":3,"t":27.14,"d":-0.01},{"seg":3,"t":27.79,"d":-0.40},{"seg":3,"t":28.37,"d":-0.14},{"seg":3,"t":28.88,"d":0.37},{"seg":3,"t":29.6,"d":0.69},
      {"seg":3,"t":30.22,"d":0.58},{"seg":3,"t":31.04,"d":-0.01},{"seg":3,"t":32.11,"d":-0.83},{"seg":3,"t":32.89,"d":-0.54},{"seg":3,"t":33.4,"d":-0.19},
      {"seg":4,"t":38.5,"d":0.06},{"seg":4,"t":39.25,"d":-0.035},{"seg":4,"t":40.48,"d":-0.13},{"seg":4,"t":41.47,"d":-0.27},{"seg":4,"t":42.13,"d":-0.01},{"seg":4,"t":42.95,"d":0.27},{"seg":4,"t":43.57,"d":0.13},
      {"seg":5,"t":48.45,"d":-0.91},{"seg":5,"t":49.01,"d":-1.14},{"seg":5,"t":49.73,"d":-0.77},{"seg":5,"t":50.55,"d":-0.27},{"seg":5,"t":51.0,"d":-0.14},{"seg":5,"t":51.68,"d":-0.22},{"seg":5,"t":52.4,"d":-0.31},{"seg":5,"t":53.01,"d":-0.14},{"seg":5,"t":53.57,"d":0.03},{"seg":5,"t":54.04,"d":-0.10},
      {"seg":5,"t":54.66,"d":-0.27},{"seg":5,"t":54.97,"d":-0.22},{"seg":5,"t":55.48,"d":0.37},{"seg":5,"t":56.3,"d":1.29},{"seg":5,"t":56.82,"d":1.71},{"seg":5,"t":57.26,"d":1.87},{"seg":5,"t":57.63,"d":1.75},{"seg":5,"t":57.98,"d":1.35}
    ],
    "tide": [
      {"t":0.5,"g":-91},{"t":10.5,"g":-62},{"t":20.5,"g":-34},{"t":30.5,"g":-5},{"t":40.5,"g":24},{"t":50.5,"g":52},{"t":60.5,"g":81}
    ],
    "noise": [{"lo":-20,"hi":20}],
    "noisecap": [{"v":-20},{"v":20}],
    "win": [{"c":50},{"c":60}]
  },
  "resolve": {"scale": {"y": "independent"}, "axis": {"x": "independent", "y": "independent"}},
  "layer": [
    {
      "layer": [
        {
          "data": {"name": "res"},
          "mark": {"type": "line", "strokeWidth": 1},
          "encoding": {
            "x": {"field": "t", "type": "quantitative", "scale": {"domain": [-10, 70], "nice": false, "zero": false},
              "axis": {"orient": "bottom", "tickCount": 200, "values": [-10,-8,-6,-4,-2,0,2,4,6,8,10,12,14,16,18,20,22,24,26,28,30,32,34,36,38,40,42,44,46,48,50,52,54,56,58,60,62,64,66,68,70],
                "labelExpr": "datum.value % 10 == 0 ? '' + datum.value : ''", "labelBaseline": "alphabetic", "labelPadding": 30.6, "labelOverlap": false,
                "title": "Time [min] from 2026-08-06 10:01:00 UTC", "titleY": 104, "titleBaseline": "alphabetic",
                "encode": {"ticks": {"update": {"y2": {"signal": "datum.value % 10 == 0 ? 10 : 5"}}}}}},
            "y": {"field": "r", "type": "quantitative", "scale": {"domain": [-100, 100], "nice": false},
              "axis": {"orient": "left", "tickCount": 200, "values": [-100,-90,-80,-70,-60,-50,-40,-30,-20,-10,0,10,20,30,40,50,60,70,80,90,100],
                "labelExpr": "datum.value % 20 == 0 ? '' + datum.value : ''", "labelPadding": 9, "labelOverlap": false,
                "title": "Obs’d Gravity [nm/s²]", "titleAngle": 270, "titleX": -102, "titleY": 396, "titleAlign": "center", "titleBaseline": "alphabetic",
                "encode": {"ticks": {"update": {"x2": {"signal": "datum.value % 20 == 0 ? -10 : -5"}}}}}},
            "color": {"datum": "Residual",
              "scale": {"domain": ["Pressure", "dP/dt low-passed", "Residual", "... last 10 min.", "Theor.Tide"], "range": ["#0000ff", "#00c8c8", "#000000", "#c0c0c0", "#ff0000"]},
              "legend": {"orient": "none", "legendX": 6, "legendY": -93, "padding": 10, "strokeColor": "#777777", "fillColor": "white",
                "title": "\u00a0", "titleOrient": "right", "titlePadding": 62, "titleFontSize": 10,
                "labelFontSize": 24, "labelColor": "black", "labelLimit": 800, "clipHeight": 24, "rowPadding": 6.7,
                "symbolOffset": 42.5, "labelOffset": 35, "symbolSize": 189, "symbolStrokeWidth": 1,
                "encode": {"symbols": {"update": {
                  "shape": {"signal": "datum.value == 'Residual' || datum.value == '... last 10 min.' ? 'M-4,-0.2H4V0.2H-4Z' : 'M-4,0H4M0.62,0A0.62,0.62,0,1,1,-0.62,0A0.62,0.62,0,1,1,0.62,0'"},
                  "fill": {"scale": "color", "field": "value"},
                  "stroke": {"scale": "color", "field": "value"},
                  "opacity": {"value": 1}}}}}}
          }
        },
        {
          "data": {"name": "res"},
          "mark": {"type": "line", "strokeWidth": 2.5, "color": "#ccc400"},
          "encoding": {
            "x": {"field": "t", "type": "quantitative", "scale": {"domain": [-10, 70], "nice": false, "zero": false}},
            "y": {"field": "s", "type": "quantitative", "scale": {"domain": [-100, 100], "nice": false}}
          }
        },
        {
          "data": {"name": "gray"},
          "mark": {"type": "line", "strokeWidth": 2.5},
          "encoding": {
            "x": {"field": "t", "type": "quantitative", "scale": {"domain": [-10, 70], "nice": false, "zero": false}},
            "y": {"field": "g", "type": "quantitative", "scale": {"domain": [-100, 100], "nice": false}},
            "color": {"datum": "... last 10 min."}
          }
        },
        {
          "data": {"values": [{}]},
          "mark": {"type": "rule", "color": "#66c2c2", "strokeWidth": 2},
          "encoding": {
            "x": {"datum": 0, "type": "quantitative", "scale": {"domain": [-10, 70], "nice": false, "zero": false}},
            "x2": {"datum": 63},
            "y": {"datum": 50, "type": "quantitative", "scale": {"domain": [-100, 100], "nice": false}}
          }
        },
        {
          "data": {"name": "noise"},
          "mark": {"type": "rule", "color": "#c8c8c8", "strokeWidth": 3},
          "encoding": {
            "x": {"datum": -6.9, "type": "quantitative", "scale": {"domain": [-10, 70], "nice": false, "zero": false}},
            "y": {"field": "lo", "type": "quantitative", "scale": {"domain": [-100, 100], "nice": false}},
            "y2": {"field": "hi"}
          }
        },
        {
          "data": {"name": "noisecap"},
          "mark": {"type": "rule", "color": "#c8c8c8", "strokeWidth": 3},
          "encoding": {
            "x": {"datum": -7.33, "type": "quantitative", "scale": {"domain": [-10, 70], "nice": false, "zero": false}},
            "x2": {"datum": -6.47},
            "y": {"field": "v", "type": "quantitative", "scale": {"domain": [-100, 100], "nice": false}}
          }
        },
        {
          "data": {"name": "noise"},
          "mark": {"type": "circle", "size": 50, "color": "black", "opacity": 1},
          "encoding": {
            "x": {"datum": -6.9, "type": "quantitative", "scale": {"domain": [-10, 70], "nice": false, "zero": false}},
            "y": {"datum": 0, "type": "quantitative", "scale": {"domain": [-100, 100], "nice": false}}
          }
        },
        {
          "data": {"name": "win"},
          "mark": {"type": "rule", "color": "#c0c0c0", "strokeWidth": 4},
          "encoding": {
            "x": {"field": "c", "type": "quantitative", "scale": {"domain": [-10, 70], "nice": false, "zero": false}},
            "y": {"datum": -34.8, "type": "quantitative", "scale": {"domain": [-100, 100], "nice": false}},
            "y2": {"datum": -31.6}
          }
        },
        {
          "data": {"values": [{}]},
          "mark": {"type": "rule", "color": "#c0c0c0", "strokeWidth": 4},
          "encoding": {
            "x": {"datum": 50, "type": "quantitative", "scale": {"domain": [-10, 70], "nice": false, "zero": false}},
            "x2": {"datum": 60},
            "y": {"datum": -33.2, "type": "quantitative", "scale": {"domain": [-100, 100], "nice": false}}
          }
        },
        {
          "data": {"values": [{}]},
          "mark": {"type": "text", "text": "The latest 1-hour, 1-second sampling", "align": "left", "baseline": "middle", "fontSize": 27, "fontWeight": "bold", "color": "black"},
          "encoding": {
            "x": {"datum": -8.0, "type": "quantitative", "scale": {"domain": [-10, 70], "nice": false, "zero": false}},
            "y": {"datum": -94, "type": "quantitative", "scale": {"domain": [-100, 100], "nice": false}}
          }
        },
        {
          "data": {"values": [{}]},
          "mark": {"type": "text", "text": "End at 2026-08-06 11:00:59 UTC", "align": "right", "baseline": "middle", "fontSize": 27, "fontWeight": "bold", "color": "black"},
          "encoding": {
            "x": {"datum": 68.2, "type": "quantitative", "scale": {"domain": [-10, 70], "nice": false, "zero": false}},
            "y": {"datum": -94, "type": "quantitative", "scale": {"domain": [-100, 100], "nice": false}}
          }
        },
        {
          "data": {"values": [{}]},
          "mark": {"type": "text", "text": "Typical noise level", "angle": 270, "align": "center", "baseline": "middle", "fontSize": 23, "color": "black"},
          "encoding": {
            "x": {"datum": -5.2, "type": "quantitative", "scale": {"domain": [-10, 70], "nice": false, "zero": false}},
            "y": {"datum": 0, "type": "quantitative", "scale": {"domain": [-100, 100], "nice": false}}
          }
        }
      ]
    },
    {
      "data": {"name": "dpdt"},
      "mark": {"type": "line", "strokeWidth": 2.5, "interpolate": "monotone"},
      "encoding": {
        "x": {"field": "t", "type": "quantitative", "scale": {"domain": [-10, 70], "nice": false, "zero": false}, "axis": null},
        "y": {"field": "d", "type": "quantitative", "scale": {"domain": [-2.5, 2.5], "range": [396, 0], "nice": false, "zero": false},
          "axis": {"orient": "right", "offset": -113.3, "tickCount": 200, "values": [-2.5,-2,-1.5,-1,-0.5,0,0.5,1,1.5,2,2.5], "labels": false,
            "domain": true, "domainColor": "#5fbdbd", "domainWidth": 2, "tickColor": "#5fbdbd", "tickWidth": 1.5,
            "title": ["1 DIV = 0.5 hPa/h", "average = 0.0388"], "titleFontSize": 23, "titleAngle": 270, "titleX": 41, "titleY": 198,
            "titleAlign": "center", "titleBaseline": "alphabetic", "titleLineHeight": 37.5,
            "encode": {"ticks": {"update": {"x": {"signal": "abs(datum.value) > 2.4 ? -16 : 0"}, "x2": {"signal": "abs(datum.value) > 2.4 || datum.value == 0 ? 16 : 8"}}}}}},
        "detail": {"field": "seg", "type": "nominal"},
        "color": {"datum": "dP/dt low-passed"}
      }
    },
    {
      "data": {"name": "pres"},
      "mark": {"type": "circle", "size": 34, "opacity": 1},
      "encoding": {
        "x": {"field": "t", "type": "quantitative", "scale": {"domain": [-10, 70], "nice": false, "zero": false},
          "axis": {"orient": "top", "tickCount": 200, "values": [-10,-8,-6,-4,-2,0,2,4,6,8,10,12,14,16,18,20,22,24,26,28,30,32,34,36,38,40,42,44,46,48,50,52,54,56,58,60,62,64,66,68,70],
            "labels": false, "title": null,
            "encode": {"ticks": {"update": {"y2": {"signal": "datum.value % 10 == 0 ? -10 : -5"}}}}}},
        "y": {"field": "p", "type": "quantitative", "scale": {"domain": [1001, 1011], "nice": false, "zero": false},
          "axis": {"orient": "right", "tickCount": 200, "values": [1006.1,1006.2,1006.3,1006.4,1006.5,1006.6,1006.7,1006.8,1006.9,1007,1007.1,1007.2,1007.3,1007.4,1007.5,1007.6,1007.7,1007.8,1007.9,1008,1008.1,1008.2,1008.3,1008.4,1008.5,1008.6,1008.7,1008.8,1008.9,1009,1009.1,1009.2,1009.3,1009.4,1009.5,1009.6,1009.7,1009.8,1009.9,1010,1010.1,1010.2,1010.3,1010.4,1010.5,1010.6,1010.7,1010.8,1010.9,1011],
            "labelExpr": "abs(datum.value - round(datum.value)) < 0.01 && datum.value > 1006.5 && datum.value < 1010.5 ? '' + round(datum.value) : ''",
            "labelPadding": 12, "labelAlign": "left", "labelOverlap": false,
            "title": "Pressure [hPa]", "titleAngle": 270, "titleX": 146, "titleY": 199, "titleAlign": "center", "titleBaseline": "alphabetic",
            "encode": {"ticks": {"update": {"x2": {"signal": "abs(datum.value - round(datum.value)) < 0.01 ? 10 : 5"}}}}}},
        "color": {"datum": "Pressure"}
      }
    },
    {
      "data": {"name": "tide"},
      "mark": {"type": "line", "strokeWidth": 4.5},
      "encoding": {
        "x": {"field": "t", "type": "quantitative", "scale": {"domain": [-10, 70], "nice": false, "zero": false}, "axis": null},
        "y": {"field": "g", "type": "quantitative", "scale": {"domain": [-1500, 4500], "nice": false, "zero": false},
          "axis": {"orient": "right", "tickCount": 200, "values": [-1500,-1400,-1300,-1200,-1100,-1000,-900,-800,-700,-600,-500,-400,-300,-200,-100,0,100,200,300,400,500,600,700,800,900,1000,1100,1200,1300,1400],
            "labelExpr": "datum.value % 500 == 0 && datum.value <= 1000 ? '' + datum.value : ''",
            "labelAlign": "right", "labelPadding": 81, "labelOverlap": false,
            "title": "Tide [nm/s²]", "titleAngle": 270, "titleX": 146, "titleY": 593, "titleAlign": "center", "titleBaseline": "alphabetic",
            "encode": {"ticks": {"update": {"x2": {"signal": "datum.value % 500 == 0 ? 10 : 5"}}}}}},
        "color": {"datum": "Theor.Tide"}
      }
    }
  ]
}
